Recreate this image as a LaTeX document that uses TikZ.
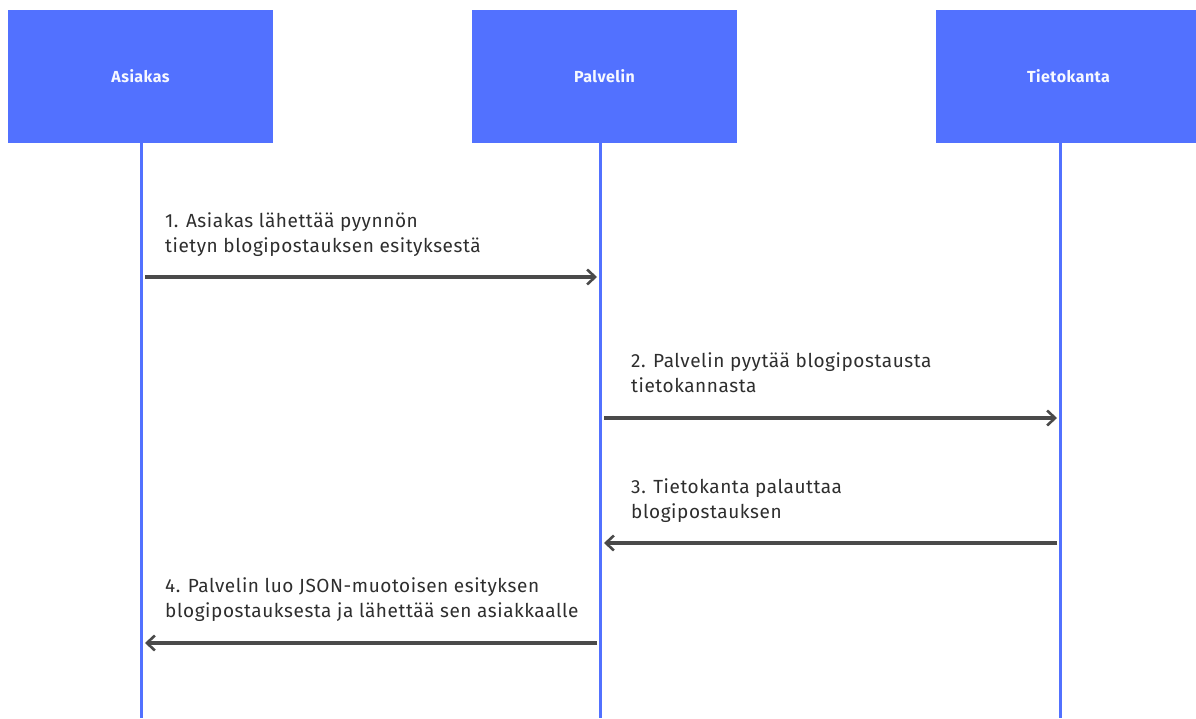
\documentclass[tikz,border=0pt]{standalone}
\usepackage{fontspec}
\setmainfont[LetterSpace=3]{Fira Sans}
\usetikzlibrary{arrows.meta}
\definecolor{boxblue}{HTML}{5271FF}
\definecolor{arrowgray}{HTML}{4A4A4A}
\definecolor{textgray}{HTML}{2E2E2E}
\begin{document}
\begin{tikzpicture}[x=1pt,y=-1pt,
  actor/.style={fill=boxblue,draw=none,minimum width=265pt,minimum height=133pt,inner sep=0pt,
    text=white!95!boxblue,font=\fontsize{16}{19}\selectfont\bfseries},
  lifeline/.style={draw=boxblue,line width=3pt},
  msg/.style={draw=arrowgray,line width=3.2pt,-{Straight Barb[length=8pt,width=15pt,line width=2.6pt]}},
  lbl/.style={anchor=base west,align=left,inner sep=0pt,text=textgray,font=\fontsize{19}{25}\selectfont}]
\useasboundingbox[fill=white] (0,0) rectangle (1196,718);
% actors
\node[actor] (asiakas) at (140.5,76.5) {Asiakas};
\node[actor] (palvelin) at (604.5,76.5) {Palvelin};
\node[actor] (tietokanta) at (1068.5,76.5) {Tietokanta};
% lifelines
\coordinate (aTop) at (141,143);
\coordinate (aBot) at (141,718);
\coordinate (pTop) at (600.5,143);
\coordinate (pBot) at (600.5,718);
\coordinate (tTop) at (1060,143);
\coordinate (tBot) at (1060,718);
\draw[lifeline] (aTop) -- (aBot);
\draw[lifeline] (pTop) -- (pBot);
\draw[lifeline] (tTop) -- (tBot);
% message end points
\coordinate (m1s) at (145,277);  \coordinate (m1e) at (597,277);
\coordinate (m2s) at (604,418);  \coordinate (m2e) at (1057,418);
\coordinate (m3s) at (1057,543); \coordinate (m3e) at (604,543);
\coordinate (m4s) at (597,643);  \coordinate (m4e) at (145,643);
\draw[msg] (m1s) -- (m1e);
\draw[msg] (m2s) -- (m2e);
\draw[msg] (m3s) -- (m3e);
\draw[msg] (m4s) -- (m4e);
% labels (base anchor = baseline of last line)
\node[lbl] (l1) at (165,252) {1. Asiakas lähettää pyynnön\\tietyn blogipostauksen esityksestä};
\node[lbl] (l2) at (631,392) {2. Palvelin pyytää blogipostausta\\tietokannasta};
\node[lbl] (l3) at (631,518) {3. Tietokanta palauttaa\\blogipostauksen};
\node[lbl] (l4) at (165,617) {4. Palvelin luo JSON-muotoisen esityksen\\blogipostauksesta ja lähettää sen asiakkaalle};
\end{tikzpicture}
\end{document}
